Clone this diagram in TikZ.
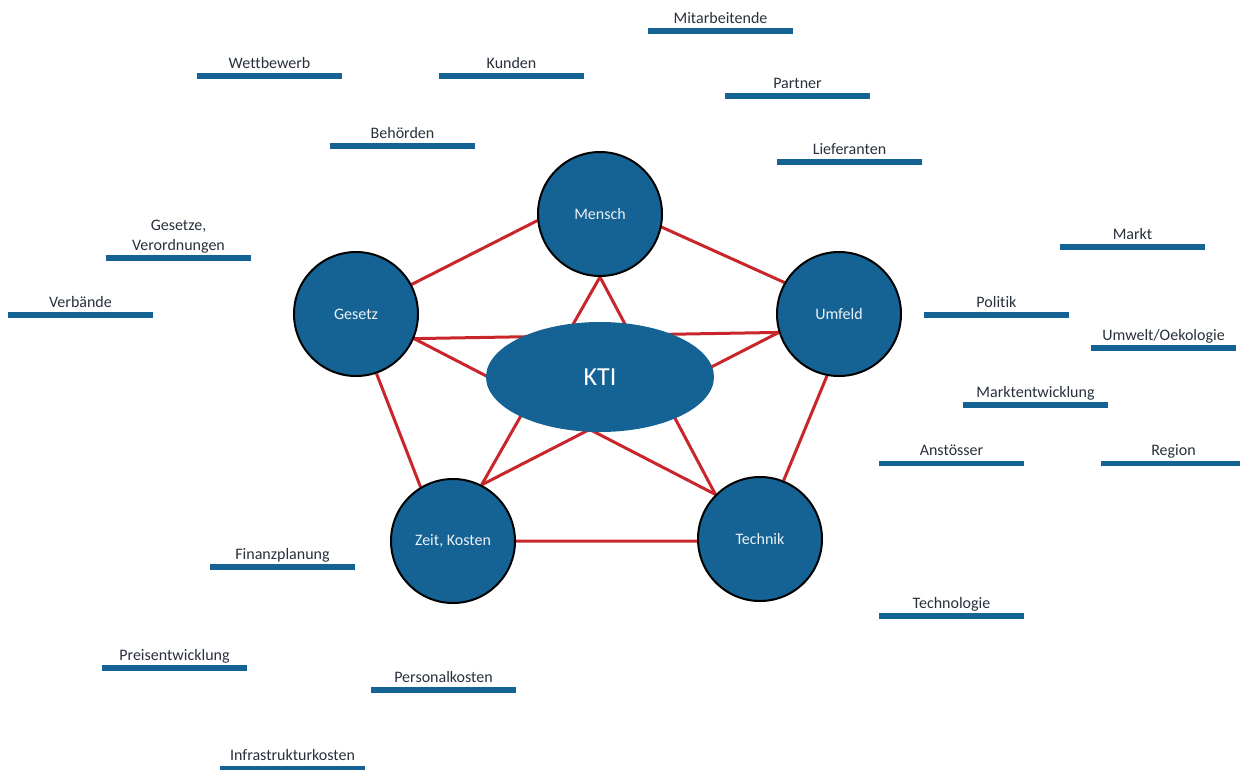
\documentclass[tikz,border=0pt]{standalone}
\usepackage{fontspec}
\setmainfont{Carlito}[Ligatures={NoCommon}]
\usetikzlibrary{shapes.geometric,backgrounds}

\definecolor{kblue}{RGB}{21,99,148}
\definecolor{kred}{RGB}{200,38,43}
\definecolor{ktext}{RGB}{40,48,60}
\definecolor{klight}{RGB}{236,241,246}

% stakeholder label: name, bar centre x, bar centre y, text
\newcommand{\stake}[4]{%
  \fill[kblue] (#2-72.5,#3-2.75) rectangle (#2+72.5,#3+2.75);
  \node[lbl] (#1) at (#2,#3-8) {#4};
}

\begin{document}
\begin{tikzpicture}[x=1pt,y=-1pt,
  lbl/.style={anchor=base,inner sep=0pt,text=ktext,align=center,
    font=\fontsize{16}{19.3}\selectfont},
  pillar/.style={circle,fill=kblue,draw=black,line width=2pt,inner sep=0pt,
    minimum size=124pt,text=klight,font=\fontsize{16}{19}\selectfont},
  core/.style={ellipse,fill=kblue,inner sep=0pt,minimum width=228pt,
    minimum height=110pt,text=white,font=\fontsize{26}{30}\selectfont},
  link/.style={draw=kred,line width=3pt}]

\useasboundingbox (0,0) rectangle (1240,769);
\clip (0,0) rectangle (1240,769);

% centre and the five pillars
\node[core] (kti) at (600,377) {KTI};
\node[pillar] (mensch)  at (600,214) {Mensch};
\node[pillar] (gesetz)  at (356,314) {Gesetz};
\node[pillar] (umfeld)  at (839,314) {Umfeld};
\node[pillar] (zeit)    at (453,541) {Zeit, Kosten};
\node[pillar] (technik) at (760,539) {Technik};

% connections between the pillars
\begin{scope}[on background layer]
  % outer pentagon
  \draw[link] (mensch.-174.6) -- (gesetz.28.2);
  \draw[link] (mensch.-12.7) -- (umfeld.150.9);
  \draw[link] (gesetz.-71.3) -- (zeit.121.9);
  \draw[link] (umfeld.-101.1) -- (technik.68.4);
  \draw[link] (zeit.0) -- (technik.-178.2);
  % inner star, running behind the centre
  \draw[link] (mensch.-90) -- (zeit.63.4);
  \draw[link] (mensch.-90) -- (technik.135.7);
  \draw[link] (gesetz.-23.7) -- (umfeld.-163.9);
  \draw[link] (gesetz.-23.7) -- (technik.135.7);
  \draw[link] (umfeld.-163.9) -- (zeit.63.4);
\end{scope}

% stakeholders and influences
\stake{mitarbeitende}{720.5}{31}{Mitarbeitende}
\stake{wettbewerb}{269.5}{76}{Wettbewerb}
\stake{kunden}{511.5}{76}{Kunden}
\stake{partner}{797.5}{96.2}{Partner}
\stake{behoerden}{402.5}{146}{Behörden}
\stake{lieferanten}{849.5}{162}{Lieferanten}
\stake{gesetze}{178.5}{258}{Gesetze,\\Verordnungen}
\stake{markt}{1132.5}{247}{Markt}
\stake{verbaende}{80.5}{315}{Verbände}
\stake{politik}{996.5}{315}{Politik}
\stake{umwelt}{1163.5}{348}{Umwelt/Oekologie}
\stake{marktentw}{1035.5}{405}{Marktentwicklung}
\stake{anstoesser}{951.5}{463.7}{Anstösser}
\stake{region}{1173.5}{463.7}{Region}
\stake{technologie}{951.5}{616}{Technologie}
\stake{finanz}{282.5}{567}{Finanzplanung}
\stake{preis}{174.5}{668}{Preisentwicklung}
\stake{personal}{443.5}{690}{Personalkosten}
\stake{infra}{292.5}{768.7}{Infrastrukturkosten}

\end{tikzpicture}
\end{document}
